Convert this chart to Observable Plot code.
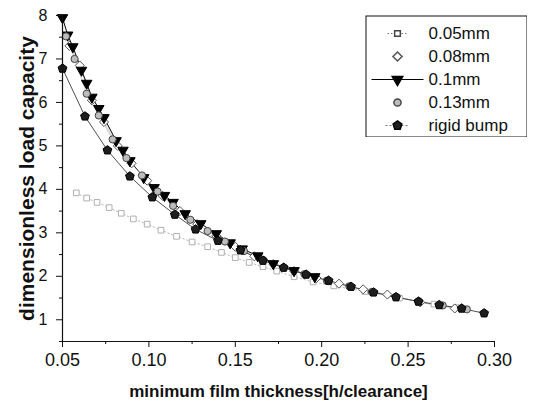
<!DOCTYPE html>
<html><head><meta charset="utf-8">
<script src="https://cdn.jsdelivr.net/npm/d3@7"></script>
<script src="https://cdn.jsdelivr.net/npm/@observablehq/plot@0.6"></script>
<style>
body{margin:0;background:#fff;font-family:"Liberation Sans",Arial,sans-serif}
#wrap{position:relative;width:534px;height:403px}
#leg{position:absolute;left:365px;top:15px}
</style></head><body><div id="wrap"><div id="chart"></div><div id="leg"></div></div>
<script>
const seriesNames = ["0.05mm","0.08mm","0.1mm","0.13mm","rigid bump"];

const x005 = [0.058,0.064,0.070,0.077,0.084,0.091,0.099,0.107,0.116,0.125,0.134,0.142,0.150,0.158,0.166,0.174,0.184,0.195,0.207,0.225,0.245,0.265,0.278];
const y005 = [3.92,3.80,3.70,3.58,3.45,3.32,3.20,3.06,2.92,2.79,2.68,2.55,2.43,2.32,2.22,2.12,1.99,1.87,1.78,1.65,1.50,1.36,1.28];

const x008 = [0.054,0.060,0.067,0.074,0.082,0.090,0.099,0.108,0.118,0.128,0.139,0.150,0.161,0.172,0.184,0.197,0.210,0.224,0.238,0.257,0.277];
const y008 = [7.30,6.85,6.05,5.55,5.00,4.60,4.20,3.85,3.50,3.20,2.93,2.68,2.46,2.28,2.12,1.96,1.83,1.70,1.58,1.40,1.26];

const x01 = [0.050,0.053,0.056,0.061,0.064,0.067,0.071,0.074,0.081,0.085,0.089,0.097,0.103,0.109,0.114,0.121,0.130,0.139,0.147,0.154,0.163,0.172,0.184,0.196];
const y01 = [7.95,7.55,7.28,6.74,6.44,6.12,5.86,5.65,5.12,4.90,4.66,4.27,4.04,3.86,3.70,3.44,3.21,2.98,2.77,2.63,2.47,2.29,2.13,1.99];

const x013 = [0.052,0.057,0.064,0.071,0.079,0.087,0.096,0.105,0.114,0.124,0.134,0.144,0.155,0.166,0.178,0.190,0.203,0.216,0.229,0.243,0.256,0.270,0.284];
const y013 = [7.52,7.00,6.20,5.70,5.15,4.72,4.32,3.95,3.62,3.30,3.04,2.80,2.58,2.38,2.20,2.05,1.90,1.77,1.64,1.53,1.42,1.33,1.24];

const xRigid = [0.050,0.063,0.076,0.089,0.102,0.115,0.127,0.140,0.153,0.166,0.178,0.191,0.204,0.217,0.230,0.243,0.256,0.268,0.281,0.294];
const yRigid = [6.78,5.68,4.90,4.30,3.82,3.42,3.08,2.82,2.60,2.36,2.20,2.04,1.90,1.76,1.63,1.52,1.42,1.34,1.26,1.15];

const xTicks = [0.05,0.10,0.15,0.20,0.25,0.30];
const xMinorTicks = [0.075,0.125,0.175,0.225,0.275];
const yTicks = [1,2,3,4,5,6,7,8];
const yMinorTicks = [0.5,1.5,2.5,3.5,4.5,5.5,6.5,7.5];
const xTitle = "minimum film thickness[h/clearance]";
const yTitle = "dimensionless load capacity";

const pentagon = {draw(ctx, size){
  const r = Math.sqrt(size/Math.PI)*1.15;
  for (let k=0;k<5;k++){const a=-Math.PI/2+k*2*Math.PI/5; const px=r*Math.cos(a), py=r*Math.sin(a); if(k) ctx.lineTo(px,py); else ctx.moveTo(px,py);}
  ctx.closePath();
}};

const xs = [x005,x008,x01,x013,xRigid];
const ys = [y005,y008,y01,y013,yRigid];
const styles = [
  {symbol:"square", fill:"white", stroke:"#b0b0b0", line:"#b8b8b8", dash:"1.5,2.5", r:3.2, lw:1, rotate:0},
  {symbol:"diamond2", fill:"white", stroke:"#555", line:"#b0b0b0", dash:null, r:4.1, lw:0.7, rotate:0},
  {symbol:"triangle", fill:"#000", stroke:"#000", line:"#000", dash:null, r:3.9, lw:1, rotate:180},
  {symbol:"circle", fill:"#bdbdbd", stroke:"#444", line:"#bbb", dash:null, r:3.6, lw:0.7, rotate:0},
  {symbol:pentagon, fill:"#1e1e1e", stroke:"#000", line:"#222", dash:null, r:4.0, lw:0.8, rotate:0}
];

const data = seriesNames.map((name,i)=>xs[i].map((x,j)=>({name, x, y: ys[i][j]})));

const marks = [];
data.forEach((d,i)=>{
  const s = styles[i];
  marks.push(Plot.line(d, {x:"x", y:"y", stroke:s.line, strokeWidth:s.lw, strokeDasharray:s.dash}));
});
data.forEach((d,i)=>{
  const s = styles[i];
  marks.push(Plot.dot(d, {x:"x", y:"y", symbol:s.symbol, r:s.r, fill:s.fill, stroke:s.stroke, strokeWidth:1, rotate:s.rotate}));
});

const chart = Plot.plot({
  width:534, height:403,
  marginLeft:62, marginRight:40, marginTop:15, marginBottom:62,
  style:{fontFamily:"'Liberation Sans',Arial,sans-serif", fontSize:"15px", color:"#111", background:"white"},
  x:{domain:[0.05,0.30]},
  y:{domain:[0.5,8]},
  marks:[
    ...marks,
    Plot.ruleX([0.05], {stroke:"#111", strokeWidth:1.2}),
    Plot.ruleY([0.5], {stroke:"#111", strokeWidth:1.2}),
    Plot.axisX(xTicks, {tickSize:6, tickPadding:6, tickFormat:d3.format(".2f"), label:null, stroke:"#111", fontSize:18}),
    Plot.axisX(xMinorTicks, {tickSize:3, tickFormat:()=>"", label:null, stroke:"#111"}),
    Plot.axisY(yTicks, {tickSize:6, tickPadding:9, tickFormat:d3.format("d"), label:null, stroke:"#111", fontSize:16}),
    Plot.axisY(yMinorTicks, {tickSize:3, tickFormat:()=>"", label:null, stroke:"#111"}),
    Plot.text([xTitle], {frameAnchor:"bottom", textAnchor:"middle", lineAnchor:"middle", dy:50, fontWeight:"bold", fontSize:17, fill:"#111"}),
    Plot.text([yTitle], {frameAnchor:"left", textAnchor:"middle", lineAnchor:"middle", dx:-35, rotate:-90, fontWeight:"bold", fontSize:21, fill:"#111"})
  ]
});
document.getElementById("chart").appendChild(chart);

const legData = seriesNames.map((name,i)=>({name, i}));
const legY = d => 18 + d.i*23;
const legMarks = [Plot.frame({stroke:"#111", strokeWidth:1, inset:0.5})];
legData.forEach(d=>{
  const s = styles[d.i];
  const half = d.i===2 ? 26 : (d.i===0 ? 10 : 0);
  if (half>0) legMarks.push(Plot.link([d], {x1:()=>32-half, x2:()=>32+half, y1:legY, y2:legY, stroke: d.i===0?"#777":"#000", strokeWidth:1, strokeDasharray: d.i===0?"1.5,2":null}));
  if (d.i===4) legMarks.push(Plot.link([d], {x1:()=>20, x2:()=>44, y1:legY, y2:legY, stroke:"#555", strokeWidth:0.8, strokeDasharray:"2,2"}));
  legMarks.push(Plot.dot([d], {x:()=>32, y:legY, symbol:s.symbol, r:s.r, fill:s.fill, stroke: d.i===0?"#444":s.stroke, rotate:s.rotate}));
});
legMarks.push(Plot.text(legData, {x:()=>63, y:legY, text:"name", textAnchor:"start", fontSize:17, fill:"#111"}));

const leg = Plot.plot({
  width:162, height:122, margin:0,
  style:{fontFamily:"'Liberation Sans',Arial,sans-serif", background:"white"},
  x:{domain:[0,162], range:[0,162], axis:null},
  y:{domain:[0,122], range:[0,122], axis:null},
  marks: legMarks
});
document.getElementById("leg").appendChild(leg);
</script>
</body></html>
